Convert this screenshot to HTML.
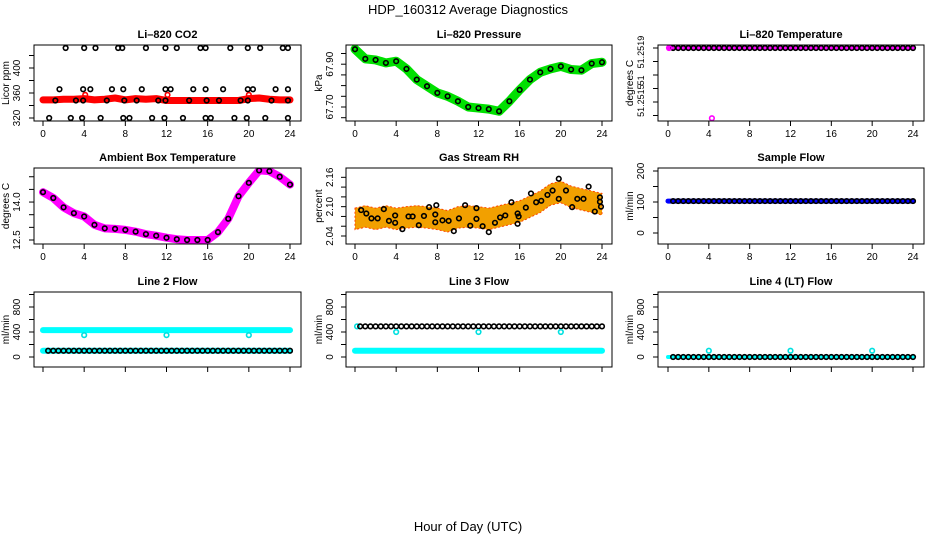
<!DOCTYPE html>
<html><head><meta charset="utf-8">
<style>
html,body{margin:0;padding:0;background:#fff;}
svg{display:block;font-family:"Liberation Sans",sans-serif;}
</style></head>
<body>
<svg id="chart" width="936" height="540" viewBox="0 0 936 540" xmlns="http://www.w3.org/2000/svg">
<rect width="936" height="540" fill="#fff"/>
<text x="468" y="14" font-size="13" text-anchor="middle">HDP_160312  Average Diagnostics</text>
<text x="468" y="531" font-size="13" text-anchor="middle">Hour of Day (UTC)</text>
<g id="plots"></g>
</svg>
<script>
// ---- data ----
const hours = [0,1,2,3,4,5,6,7,8,9,10,11,12,13,14,15,16,17,18,19,20,21,22,23,24];
const halfHours = [0.5,1,1.5,2,2.5,3,3.5,4,4.5,5,5.5,6,6.5,7,7.5,8,8.5,9,9.5,10,10.5,11,11.5,12,12.5,13,13.5,14,14.5,15,15.5,16,16.5,17,17.5,18,18.5,19,19.5,20,20.5,21,21.5,22,22.5,23,23.5,24];
// CO2
const co2Red = [349,349,350,350,351,349,350,352,349,351,350,351,348,348,348,348,348,348,348,348,351,352,350,349,349];
const co2RedOutX = [4.1,12.1,20.0];
const co2RedOutY = [357,357,357];
const co2TopX = [2.2,4,5.1,7.3,7.7,10,11.9,13,15.3,15.8,18.2,19.9,21.1,23.3,23.8];
const co2TopVal = 432;
const co2SqX = [1.6,3.9,4.6,6.7,7.8,9.6,11.9,12.4,14.6,15.8,17.5,19.9,20.4,22.6,23.8];
const co2SqVal = 366;
const co2MidX = [1.2,3.2,3.9,6.2,7.9,9.1,11.2,11.9,14.2,15.9,17.1,19.2,19.9,22.2,23.8];
const co2MidVal = 348;
const co2LowX = [0.6,2.7,3.8,5.6,7.8,8.4,10.6,11.8,13.6,15.8,16.3,18.6,19.8,21.6,23.8];
const co2LowVal = 320;
// Pressure
const pres = [67.97,67.925,67.92,67.906,67.914,67.878,67.828,67.797,67.766,67.75,67.727,67.70,67.695,67.69,67.68,67.727,67.78,67.828,67.862,67.878,67.89,67.875,67.872,67.903,67.909];
// Li-820 temperature
const tempVal = 51.2519;
const tempOutX = [4.3];
const tempOutY = [51.25138];
// Ambient
const amb = [14.39,14.16,13.79,13.56,13.43,13.10,12.96,12.94,12.90,12.83,12.73,12.67,12.59,12.53,12.5,12.5,12.5,12.81,13.34,14.23,14.76,15.25,15.22,15.0,14.69];
// RH
const rhBand = [2.075,2.08,2.075,2.08,2.075,2.078,2.08,2.078,2.075,2.07,2.078,2.08,2.078,2.075,2.08,2.085,2.09,2.1,2.11,2.125,2.13,2.12,2.115,2.11,2.105];
const rhX = [0.6,1.1,1.6,2.2,2.8,3.3,3.9,3.9,4.6,5.2,5.6,6.2,6.7,7.2,7.8,7.8,7.9,8.5,9.1,9.6,10.1,10.7,11.2,11.8,11.8,12.4,13,13.6,14.1,14.6,15.2,15.8,15.8,15.9,16.6,17.1,17.6,18.1,18.7,19.2,19.8,19.8,20.5,21.1,21.6,22.2,22.7,23.3,23.8,23.8,23.9];
const rhY = [2.093,2.086,2.076,2.076,2.095,2.071,2.082,2.067,2.054,2.08,2.08,2.062,2.081,2.099,2.084,2.068,2.103,2.072,2.071,2.05,2.076,2.103,2.061,2.097,2.075,2.06,2.048,2.067,2.078,2.082,2.109,2.086,2.065,2.08,2.098,2.127,2.109,2.112,2.124,2.133,2.116,2.157,2.133,2.099,2.116,2.116,2.141,2.09,2.119,2.11,2.1];
// Sample flow
const sampleFlow = 103;
// Line flows
const line2Cyan = [430,100];
const line2Black = 100;
const line3Cyan = [100];
const line3Black = 490;
const line4Black = 0;
const outHours = [4,12,20];
const line2Out = [350,350,350];
const line3Out = [400,400,400];
const line4Out = [100,100,100];

// ---- layout ----
const cols = [{l:34,r:301,x0:43,x24:290,tl:20,yl:9},{l:346,r:612,x0:355,x24:602,tl:333,yl:322},{l:658,r:924,x0:668,x24:913,tl:644,yl:633}];
const rows = [{t:45,b:121},{t:168,b:244},{t:292,b:367}];
const NS='http://www.w3.org/2000/svg';
const root=document.getElementById('plots');
function el(tag,attrs,parent){const e=document.createElementNS(NS,tag);for(const k in attrs)e.setAttribute(k,attrs[k]);(parent||root).appendChild(e);return e;}

function makePanel(ci,ri,cfg){
  const c=cols[ci], r=rows[ri];
  const g=el('g',{});
  
  
  const p={xs:h=>c.x0+h/24*(c.x24-c.x0), ys:v=>cfg.yRef+(v-cfg.vRef)*cfg.k, g:g};
  const t=el('text',{x:(c.l+c.r)/2,y:r.t-7,'font-size':11,'font-weight':'bold','text-anchor':'middle'},g);
  t.textContent=cfg.title;
  
  
  [0,4,8,12,16,20,24].forEach(h=>{
    el('line',{x1:p.xs(h),x2:p.xs(h),y1:r.b,y2:r.b+5,stroke:'#000'},g);
    if(ri<2){const tx=el('text',{x:p.xs(h),y:r.b+16,'font-size':10,'text-anchor':'middle'},g);tx.textContent=h;
      
      }
  });
  cfg.ticks.forEach(v=>{const y=p.ys(v);el('line',{x1:c.l-5,x2:c.l,y1:y,y2:y,stroke:'#000'},g);});
  const lfs=cfg.labelSize||10;
  cfg.labels.forEach(([v,s])=>{const y=p.ys(v);
    const tx=el('text',{x:c.tl,y:y,'font-size':lfs,'text-anchor':'middle',transform:`rotate(-90 ${c.tl} ${y})`},g);tx.textContent=s;
    
    });
  const ym=(r.t+r.b)/2;
  const yl=el('text',{x:c.yl,y:ym,'font-size':10,'text-anchor':'middle',transform:`rotate(-90 ${c.yl} ${ym})`},g);yl.textContent=cfg.ylab;
  
  
  const clip='clip'+ci+ri;
  const cp=el('clipPath',{id:clip},g);el('rect',{x:c.l,y:r.t,width:c.r-c.l,height:r.b-r.t},cp);
  p.plot=el('g',{'clip-path':`url(#${clip})`},g);
  cfg.draw(p);
  const box=el('rect',{x:c.l,y:r.t,width:c.r-c.l,height:r.b-r.t,fill:'none',stroke:'#000','stroke-width':1},g);
  
  
}
function band(p,xsArr,vals,color,w,name){
  const pts=xsArr.map((h,i)=>p.xs(h)+','+p.ys(vals[i])).join(' ');
  const e=el('polyline',{points:pts,fill:'none',stroke:color,'stroke-width':w,'stroke-linejoin':'round','stroke-linecap':'round'},p.plot);
  
  
}
function circ(p,h,v,color,name){
  const e=el('circle',{cx:p.xs(h),cy:p.ys(v),r:2.3,fill:'none',stroke:color,'stroke-width':1.6},p.plot);
  
  
}
function range(a,b,s){const o=[];for(let v=a;v<=b+1e-9;v+=s)o.push(+v.toFixed(6));return o;}

makePanel(0,0,{name:'co2-panel',title:'Li–820 CO2',ylab:'Licor ppm',vRef:320,yRef:118,k:-0.625,
  ticks:range(320,420,20),labels:[[320,'320'],[360,'360'],[400,'400']],
  draw:p=>{band(p,hours,co2Red,'#f00',7,'co2-red-series');
    co2RedOutX.forEach((h,i)=>circ(p,h,co2RedOutY[i],'#f00','co2-red-point'));
    co2TopX.forEach(h=>circ(p,h,co2TopVal,'#000','co2-point'));
    co2SqX.forEach(h=>circ(p,h,co2SqVal,'#000','co2-point'));
    co2MidX.forEach(h=>circ(p,h,co2MidVal,'#000','co2-point'));
    co2LowX.forEach(h=>circ(p,h,co2LowVal,'#000','co2-point'));}});
makePanel(1,0,{name:'pressure-panel',title:'Li–820 Pressure',ylab:'kPa',vRef:67.70,yRef:107,k:-214,
  ticks:range(67.65,67.95,0.05),labels:[[67.70,'67.70'],[67.90,'67.90']],
  draw:p=>{band(p,hours,pres,'#00e000',9,'pressure-green-series');
    hours.forEach((h,i)=>circ(p,h,pres[i],'#000','pressure-point'));}});
makePanel(2,0,{name:'temperature-panel',title:'Li–820 Temperature',ylab:'degrees C',vRef:51.2519,yRef:48,k:-135000,labelSize:9,
  ticks:range(51.2514,51.2519,0.0001),labels:[[51.25187,'51.2519'],[51.25166,'51'],[51.25151,'51.2515']],
  draw:p=>{band(p,[0,24],[tempVal,tempVal],'#ff00ff',3,'temp-magenta-series');
    halfHours.forEach(h=>circ(p,h,tempVal,'#000','temp-point'));
    circ(p,0.1,tempVal,'#ff00ff','temp-magenta-point');
    tempOutX.forEach((h,i)=>circ(p,h,tempOutY[i],'#ff00ff','temp-outlier'));}});
makePanel(0,1,{name:'ambient-panel',title:'Ambient Box Temperature',ylab:'degrees C',vRef:12.5,yRef:240,k:-25.3,
  ticks:range(12.5,15.0,0.5),labels:[[12.5,'12.5'],[14.0,'14.0']],
  draw:p=>{band(p,hours,amb,'#ff00ff',8,'ambient-magenta-series');
    hours.forEach((h,i)=>circ(p,h,amb[i],'#000','ambient-point'));}});
makePanel(1,1,{name:'rh-panel',title:'Gas Stream RH',ylab:'percent',vRef:2.04,yRef:236,k:-489,
  ticks:range(2.04,2.16,0.02),labels:[[2.04,'2.04'],[2.10,'2.10'],[2.16,'2.16']],
  draw:p=>{
    const up=hours.map((h,i)=>p.xs(h)+','+p.ys(rhBand[i]+0.022));
    const lo=hours.map((h,i)=>p.xs(h)+','+p.ys(rhBand[i]-0.022)).reverse();
    const poly=el('polygon',{points:up.concat(lo).join(' '),fill:'#f2a000',stroke:'#ff4000','stroke-width':1,'stroke-dasharray':'2 2'},p.plot);
    
    
    rhX.forEach((h,i)=>circ(p,h,rhY[i],'#000','rh-point'));}});
makePanel(2,1,{name:'sample-flow-panel',title:'Sample Flow',ylab:'ml/min',vRef:0,yRef:233,k:-0.31,
  ticks:range(0,200,50),labels:[[0,'0'],[100,'100'],[200,'200']],
  draw:p=>{band(p,[0,24],[sampleFlow,sampleFlow],'#0000ff',5,'sample-blue-series');
    halfHours.forEach(h=>circ(p,h,sampleFlow,'#000','sample-point'));}});
const flowCfg={vRef:0,yRef:357,k:-0.0625,ticks:range(0,1000,200),labels:[[0,'0'],[400,'400'],[800,'800']],ylab:'ml/min'};
makePanel(0,2,Object.assign({name:'line2-panel',title:'Line 2 Flow',
  draw:p=>{line2Cyan.forEach(v=>band(p,[0,24],[v,v],'#00ffff',6,'line2-cyan-series'));
    halfHours.forEach(h=>circ(p,h,line2Black,'#000','line2-point'));
    outHours.forEach((h,i)=>circ(p,h,line2Out[i],'#00e0e0','line2-outlier'));}},flowCfg));
makePanel(1,2,Object.assign({name:'line3-panel',title:'Line 3 Flow',
  draw:p=>{line3Cyan.forEach(v=>band(p,[0,24],[v,v],'#00ffff',6,'line3-cyan-series'));
    circ(p,0.2,line3Black,'#00e0e0','line3-cyan-point');
    halfHours.forEach(h=>circ(p,h,line3Black,'#000','line3-point'));
    outHours.forEach((h,i)=>circ(p,h,line3Out[i],'#00e0e0','line3-outlier'));}},flowCfg));
makePanel(2,2,Object.assign({name:'line4-panel',title:'Line 4 (LT) Flow',
  draw:p=>{band(p,[0,24],[line4Black,line4Black],'#00ffff',4,'line4-cyan-series');
    halfHours.forEach(h=>circ(p,h,line4Black,'#000','line4-point'));
    outHours.forEach((h,i)=>circ(p,h,line4Out[i],'#00e0e0','line4-outlier'));}},flowCfg));
</script>
</body></html>
